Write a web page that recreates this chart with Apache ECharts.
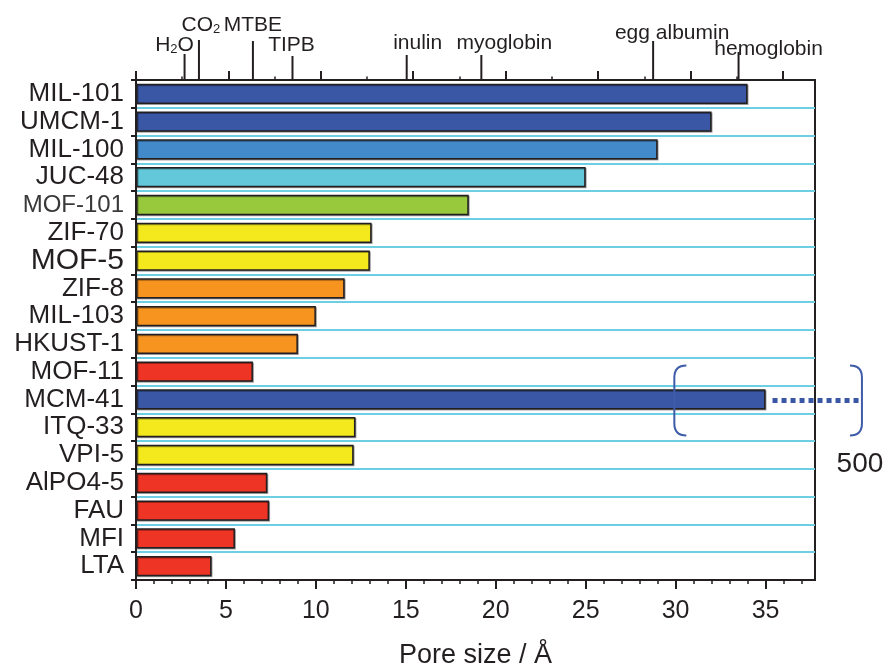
<!DOCTYPE html>
<html>
<head>
<meta charset="utf-8">
<script src="https://cdn.jsdelivr.net/npm/echarts@6/dist/echarts.min.js"></script>
<style>
html,body{margin:0;padding:0;background:#fff;}
#chart{width:888px;height:669px;}
</style>
</head>
<body>
<div id="chart"></div>
<script>
// ---------------- data ----------------
const categories = ['MIL-101','UMCM-1','MIL-100','JUC-48','MOF-101','ZIF-70','MOF-5','ZIF-8','MIL-103','HKUST-1','MOF-11','MCM-41','ITQ-33','VPI-5','AlPO4-5','FAU','MFI','LTA'];
const poreSize = [34, 32, 29, 25, 18.5, 13.1, 13.0, 11.6, 10.0, 9.0, 6.5, 35, 12.2, 12.1, 7.3, 7.4, 5.5, 4.2];
const poreClass = ['navy','navy','blue','cyan','green','yellow','yellow','orange','orange','orange','red','navy','yellow','yellow','red','red','red','red'];
const xTickValues = [0, 5, 10, 15, 20, 25, 30, 35];
const xMinorTicks = [1,2,3,4,6,7,8,9,11,12,13,14,16,17,18,19,21,22,23,24,26,27,28,29,31,32,33,34,36,37];
const topTicks = [0, 5.14, 10.27, 15.41, 20.55, 25.69, 30.82, 35.96];
const topMinorTicks = [2.57, 7.71, 12.84, 17.98, 23.12, 28.26, 33.39];
const molecules = ['H2O','CO2','MTBE','TIPB','inulin','myoglobin','egg albumin','hemoglobin'];
const moleculeSize = [2.7, 3.5, 6.5, 8.7, 15.05, 19.2, 28.75, 33.5];
const brokenBar = ['MCM-41'];
const brokenBarValue = ['500'];

// ---------------- styles ----------------
const INK = '#231f20';
const FONT = 'Liberation Sans, Arial, Helvetica, sans-serif';
const classColor = {navy:'#3a57a5', blue:'#438acb', cyan:'#62c8da', green:'#98c93c', yellow:'#f3e91c', orange:'#f7931f', red:'#ee3424'};
const molTickLen = [26, 40, 39, 24, 25, 25, 39, 28];
const molLabelOffset = [[-10,-35],[2,-55],[0,-55],[-1,-35],[11,-37],[23,-37],[19,-47],[30,-31]];
const molRich = {
  n:{fontSize:21, fontFamily:FONT, fill:INK, color:INK, lineHeight:22},
  s:{fontSize:13, fontFamily:FONT, fill:INK, color:INK, lineHeight:12, verticalAlign:'bottom'}
};
function molText(name){
  if (name === 'H2O') return '{n|H}{s|2}{n|O}';
  if (name === 'CO2') return '{n|CO}{s|2}';
  return '{n|' + name + '}';
}
const bracketPos = [29.93, 40.36];

const chart = echarts.init(document.getElementById('chart'), null, {renderer:'canvas'});

const barData = poreSize.map((v, i) => ({
  value: v,
  itemStyle: {color: classColor[poreClass[i]]}
}));

const option = {
  animation: false,
  backgroundColor: '#fff',
  grid: {left:136, top:80, width:679, height:500, show:true, borderColor:INK, borderWidth:2, backgroundColor:'transparent', containLabel:false, outerBoundsMode:'none'},
  xAxis: [
    {
      type:'value', position:'bottom', min:0, max:37.75,
      axisLine:{show:true, lineStyle:{color:INK, width:2}},
      axisTick:{show:true, customValues:xTickValues, length:9, lineStyle:{color:INK, width:2}},
      axisLabel:{show:true, customValues:xTickValues, fontSize:25, color:INK, fontFamily:FONT, margin:19},
      splitLine:{show:false},
      name:'Pore size / Å', nameLocation:'middle', nameGap:62,
      nameTextStyle:{fontSize:27, color:INK, fontFamily:FONT}
    },
    {
      type:'value', position:'bottom', min:0, max:37.75,
      axisLine:{show:false},
      axisTick:{show:true, customValues:xMinorTicks, length:4, lineStyle:{color:INK, width:1.5}},
      axisLabel:{show:false}, splitLine:{show:false}
    },
    {
      type:'value', position:'top', min:0, max:37.75,
      axisLine:{show:true, lineStyle:{color:INK, width:2}},
      axisTick:{show:true, customValues:topTicks, length:9, lineStyle:{color:INK, width:2}},
      axisLabel:{show:false}, splitLine:{show:false}
    },
    {
      type:'value', position:'top', min:0, max:37.75,
      axisLine:{show:false},
      axisTick:{show:true, customValues:topMinorTicks, length:3.5, lineStyle:{color:INK, width:1.5}},
      axisLabel:{show:false}, splitLine:{show:false}
    }
  ],
  yAxis: {
    type:'category', data:categories, inverse:true,
    axisLine:{show:true, lineStyle:{color:INK, width:2}},
    axisTick:{show:true, interval:0, length:5, lineStyle:{color:INK, width:2}},
    axisLabel:{
      interval:0, fontSize:26, color:INK, fontFamily:FONT, margin:12,
      formatter: v => v === 'MOF-5' ? '{big|' + v + '}' : (v === 'MOF-101' ? '{thin|' + v + '}' : v),
      rich:{
        big:{fontSize:30, color:INK, fontFamily:FONT},
        thin:{fontSize:24, color:'#3a3a3a', fontFamily:FONT}
      }
    },
    splitLine:{show:true, interval:0, lineStyle:{color:'#6fcfe2', width:2}}
  },
  series: [
    {
      type:'bar', xAxisIndex:0, yAxisIndex:0, data:barData, barWidth:'73%',
      itemStyle:{borderColor:INK, borderWidth:1.5, shadowColor:'rgba(0,0,0,0.35)', shadowOffsetX:1, shadowOffsetY:1, shadowBlur:0},
      z:3
    },
    {
      type:'custom', xAxisIndex:0, yAxisIndex:0, clip:false, z:5,
      data: moleculeSize.map((v, i) => [v, 0, i]),
      encode:{x:0, y:1},
      renderItem: function(params, api){
        const i = api.value(2);
        const x = api.coord([api.value(0), 0])[0];
        const top = params.coordSys.y;
        const len = molTickLen[i];
        const off = molLabelOffset[i];
        return {
          type:'group',
          children:[
            {type:'line', shape:{x1:x, y1:top, x2:x, y2:top - len}, style:{stroke:INK, lineWidth:2}},
            {type:'text', x:x + off[0], y:top + off[1],
              style:{text:molText(molecules[i]), rich:molRich, fill:INK, fontSize:21, fontFamily:FONT, align:'center', verticalAlign:'middle'}}
          ]
        };
      }
    },
    {
      type:'custom', xAxisIndex:0, yAxisIndex:0, clip:false, z:6,
      data: brokenBar.map((c, i) => [poreSize[categories.indexOf(c)], categories.indexOf(c), i]),
      encode:{x:0, y:1},
      renderItem: function(params, api){
        const i = api.value(2);
        const p = api.coord([api.value(0), api.value(1)]);
        const cy = p[1] + 1;
        const xl = api.coord([bracketPos[0], api.value(1)])[0];
        const xr = api.coord([bracketPos[1], api.value(1)])[0];
        const half = 35, r = 12;
        const t = cy - half, b = cy + half;
        const bc = '#3f5ca8';
        return {
          type:'group',
          children:[
            {type:'line', shape:{x1:p[0] + 7, y1:cy, x2:xr, y2:cy},
              style:{stroke:'#3a57a5', lineWidth:5, lineDash:[5,4]}},
            {type:'path', shape:{pathData:'M'+(xl+r)+','+t+' Q'+xl+','+t+' '+xl+','+(t+r)+' L'+xl+','+(b-r)+' Q'+xl+','+b+' '+(xl+r)+','+b},
              style:{stroke:bc, lineWidth:2, fill:null}},
            {type:'path', shape:{pathData:'M'+(xr-r)+','+t+' Q'+xr+','+t+' '+xr+','+(t+r)+' L'+xr+','+(b-r)+' Q'+xr+','+b+' '+(xr-r)+','+b},
              style:{stroke:bc, lineWidth:2, fill:null}},
            {type:'text', x:xr - 2, y:b + 29,
              style:{text:brokenBarValue[i], fill:INK, fontSize:28, fontFamily:FONT, align:'center', verticalAlign:'middle'}}
          ]
        };
      }
    }
  ]
};
chart.setOption(option);
</script>
</body>
</html>
